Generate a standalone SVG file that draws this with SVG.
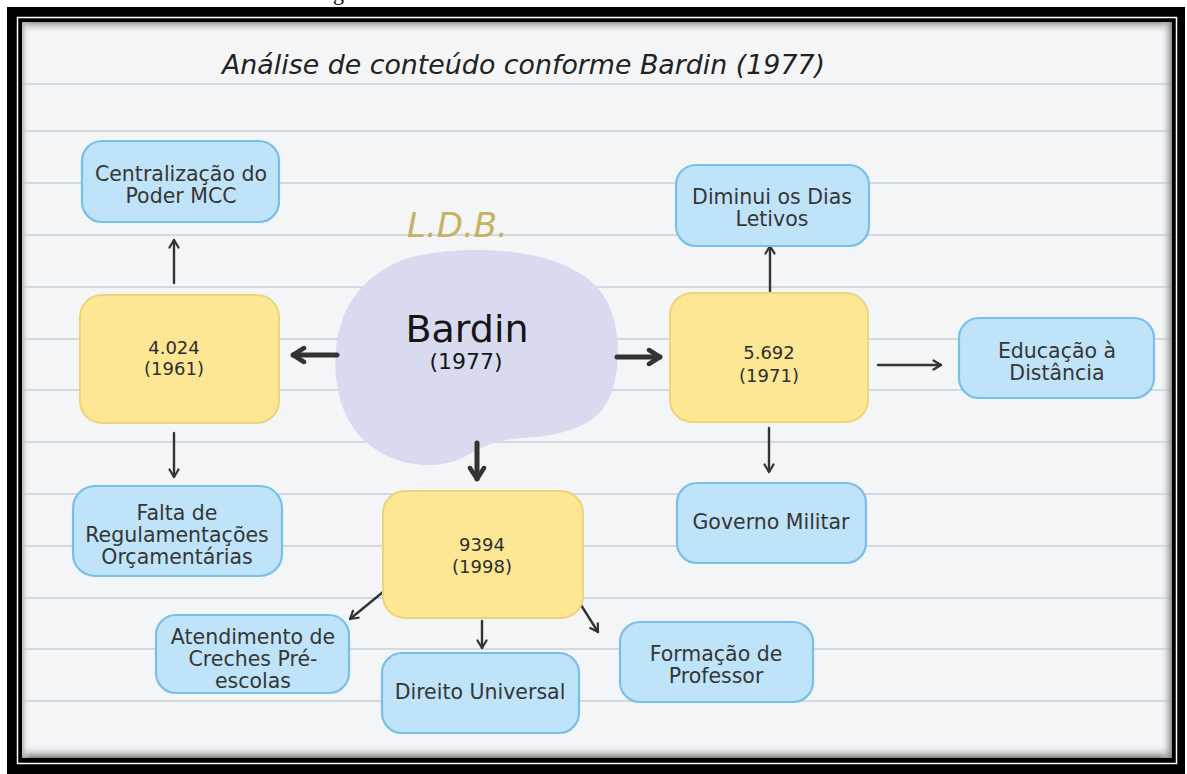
<svg xmlns="http://www.w3.org/2000/svg" width="1187" height="774" viewBox="0 0 1187 774">
  <defs>
    <style>
      .blue { fill: #bfe3f8; stroke: #79c0e8; stroke-width: 2.2; }
      .yellow { fill: #fde795; stroke: #ecd47c; stroke-width: 2; }
      .lbl { font-family: "DejaVu Sans", "Noto Sans", sans-serif; font-size: 20.5px; fill: #363636; text-anchor: middle; }
      .num { font-family: "DejaVu Sans", "Noto Sans", sans-serif; font-size: 18px; fill: #2e2e2e; text-anchor: middle; }
      .rule { stroke: #d3d8e1; stroke-width: 2; }
      .thin { fill: none; stroke: #333; stroke-width: 2.4; stroke-linecap: round; }
      .thick { fill: none; stroke: #333; stroke-width: 5; stroke-linecap: round; }
    </style>
    <marker id="headThin" viewBox="0 0 10 12" refX="9" refY="6" markerWidth="10" markerHeight="12" markerUnits="userSpaceOnUse" orient="auto">
      <path d="M1.5,1.5 L9,6 L1.5,10.5" fill="none" stroke="#333" stroke-width="2.2" stroke-linecap="round" stroke-linejoin="round"/>
    </marker>
    <marker id="headThick" viewBox="0 0 16 20" refX="14" refY="10" markerWidth="16" markerHeight="20" markerUnits="userSpaceOnUse" orient="auto">
      <path d="M3,3 L14,10 L3,17" fill="none" stroke="#333" stroke-width="4.5" stroke-linecap="round" stroke-linejoin="round"/>
    </marker>
    <linearGradient id="shTop" x1="0" y1="0" x2="0" y2="1">
      <stop offset="0" stop-color="#8d8f93" stop-opacity="0.9"/>
      <stop offset="1" stop-color="#f4f5f7" stop-opacity="0"/>
    </linearGradient>
    <linearGradient id="shBottom" x1="0" y1="1" x2="0" y2="0">
      <stop offset="0" stop-color="#6f7175" stop-opacity="0.9"/>
      <stop offset="1" stop-color="#f4f5f7" stop-opacity="0"/>
    </linearGradient>
    <linearGradient id="shRight" x1="1" y1="0" x2="0" y2="0">
      <stop offset="0" stop-color="#7d7f83" stop-opacity="0.9"/>
      <stop offset="1" stop-color="#f4f5f7" stop-opacity="0"/>
    </linearGradient>
    <linearGradient id="shLeft" x1="0" y1="0" x2="1" y2="0">
      <stop offset="0" stop-color="#a5a7ab" stop-opacity="0.8"/>
      <stop offset="1" stop-color="#f4f5f7" stop-opacity="0"/>
    </linearGradient>
  </defs>

  <!-- frame -->
  <rect x="0" y="0" width="1187" height="774" fill="#ffffff"/>
  <text x="333" y="0" font-family="Liberation Serif, serif" font-size="22" fill="#000">g</text>
  <rect x="7" y="7" width="1178" height="767" fill="#000"/>
  <rect x="17.5" y="17.5" width="1159" height="746" fill="none" stroke="#fff" stroke-width="1.5"/>
  <rect x="22" y="22" width="1150" height="736" fill="#f4f5f7"/>

  <!-- ruled lines -->
  <g id="rules">
    <line class="rule" x1="22" y1="84" x2="1172" y2="84"/>
    <line class="rule" x1="22" y1="131" x2="1172" y2="131"/>
    <line class="rule" x1="22" y1="183" x2="1172" y2="183"/>
    <line class="rule" x1="22" y1="235" x2="1172" y2="235"/>
    <line class="rule" x1="22" y1="287" x2="1172" y2="287"/>
    <line class="rule" x1="22" y1="339" x2="1172" y2="339"/>
    <line class="rule" x1="22" y1="390" x2="1172" y2="390"/>
    <line class="rule" x1="22" y1="442" x2="1172" y2="442"/>
    <line class="rule" x1="22" y1="494" x2="1172" y2="494"/>
    <line class="rule" x1="22" y1="546" x2="1172" y2="546"/>
    <line class="rule" x1="22" y1="598" x2="1172" y2="598"/>
    <line class="rule" x1="22" y1="649" x2="1172" y2="649"/>
    <line class="rule" x1="22" y1="701" x2="1172" y2="701"/>
  </g>

  <!-- edge shadows -->
  <rect x="22" y="22" width="1150" height="12" fill="url(#shTop)"/>
  <rect x="22" y="745" width="1150" height="13" fill="url(#shBottom)"/>
  <rect x="1160" y="22" width="12" height="736" fill="url(#shRight)"/>
  <rect x="22" y="22" width="8" height="736" fill="url(#shLeft)"/>

  <text x="222" y="74" font-family="DejaVu Sans, sans-serif" font-style="italic" font-size="27" fill="#222" textLength="603" lengthAdjust="spacingAndGlyphs">Análise de conteúdo conforme Bardin (1977)</text>

  <!-- central blob -->
  <g id="n-bardin">
    <path d="M477,250 C545,250 592,270 608,303 C623,335 621,385 602,410 C587,428 560,436 522,438 C497,440 482,446 466,456 C440,471 398,468 368,444 C340,420 333,382 336,350 C340,302 368,272 408,258 C430,252 455,250 477,250 Z" fill="#d8dbef"/>
    <text x="467" y="342" font-family="DejaVu Sans, sans-serif" font-size="38" fill="#151515" text-anchor="middle">Bardin</text>
    <text x="466" y="369" font-family="DejaVu Sans, sans-serif" font-size="22" fill="#151515" text-anchor="middle">(1977)</text>
  </g>
  <g id="n-ldb">
    <text x="407" y="237" font-family="DejaVu Sans, sans-serif" font-style="italic" font-weight="200" font-size="34" fill="#c6b262">L.D.B.</text>
  </g>

  <!-- connectors -->
  <g id="connectors">
    <path class="thick" d="M337,355 L293,355" marker-end="url(#headThick)"/>
    <path class="thick" d="M617,357 L660,357" marker-end="url(#headThick)"/>
    <path class="thick" d="M477,443 L477,479" marker-end="url(#headThick)"/>
    <path class="thin" d="M174,283 L174,240" marker-end="url(#headThin)"/>
    <path class="thin" d="M174,433 L174,477" marker-end="url(#headThin)"/>
    <path class="thin" d="M770,291 L770,246" marker-end="url(#headThin)"/>
    <path class="thin" d="M878,365 L941,365" marker-end="url(#headThin)"/>
    <path class="thin" d="M769,428 L769,472" marker-end="url(#headThin)"/>
    <path class="thin" d="M383,592 L350,619" marker-end="url(#headThin)"/>
    <path class="thin" d="M482,621 L482,648" marker-end="url(#headThin)"/>
    <path class="thin" d="M581,605 L598,632" marker-end="url(#headThin)"/>
  </g>

  <!-- nodes -->
  <g id="n-centralizacao">
    <rect class="blue" x="82" y="141" width="197" height="81" rx="20"/>
    <text class="lbl" x="181" y="181">Centralização do</text>
    <text class="lbl" x="181" y="203">Poder MCC</text>
  </g>
  <g id="n-4024">
    <rect class="yellow" x="80" y="295" width="199" height="128" rx="22"/>
    <text class="num" x="174" y="354">4.024</text>
    <text class="num" x="174" y="375">(1961)</text>
  </g>
  <g id="n-falta">
    <rect class="blue" x="73" y="486" width="209" height="90" rx="22"/>
    <text class="lbl" x="177" y="520">Falta de</text>
    <text class="lbl" x="177" y="542">Regulamentações</text>
    <text class="lbl" x="177" y="564">Orçamentárias</text>
  </g>
  <g id="n-5692">
    <rect class="yellow" x="670" y="293" width="198" height="129" rx="22"/>
    <text class="num" x="769" y="359">5.692</text>
    <text class="num" x="769" y="382">(1971)</text>
  </g>
  <g id="n-diminui">
    <rect class="blue" x="676" y="165" width="193" height="81" rx="20"/>
    <text class="lbl" x="772" y="204">Diminui os Dias</text>
    <text class="lbl" x="772" y="226">Letivos</text>
  </g>
  <g id="n-educacao">
    <rect class="blue" x="959" y="318" width="195" height="80" rx="20"/>
    <text class="lbl" x="1057" y="358">Educação à</text>
    <text class="lbl" x="1057" y="380">Distância</text>
  </g>
  <g id="n-governo">
    <rect class="blue" x="677" y="483" width="189" height="80" rx="20"/>
    <text class="lbl" x="771" y="529">Governo Militar</text>
  </g>
  <g id="n-9394">
    <rect class="yellow" x="383" y="491" width="200" height="127" rx="22"/>
    <text class="num" x="482" y="551">9394</text>
    <text class="num" x="482" y="573">(1998)</text>
  </g>
  <g id="n-atendimento">
    <rect class="blue" x="156" y="615" width="193" height="78" rx="20"/>
    <text class="lbl" x="253" y="644">Atendimento de</text>
    <text class="lbl" x="253" y="666">Creches Pré-</text>
    <text class="lbl" x="253" y="688">escolas</text>
  </g>
  <g id="n-direito">
    <rect class="blue" x="382" y="653" width="197" height="80" rx="20"/>
    <text class="lbl" x="480" y="699">Direito Universal</text>
  </g>
  <g id="n-formacao">
    <rect class="blue" x="620" y="622" width="193" height="80" rx="20"/>
    <text class="lbl" x="716" y="661">Formação de</text>
    <text class="lbl" x="716" y="683">Professor</text>
  </g>
</svg>
